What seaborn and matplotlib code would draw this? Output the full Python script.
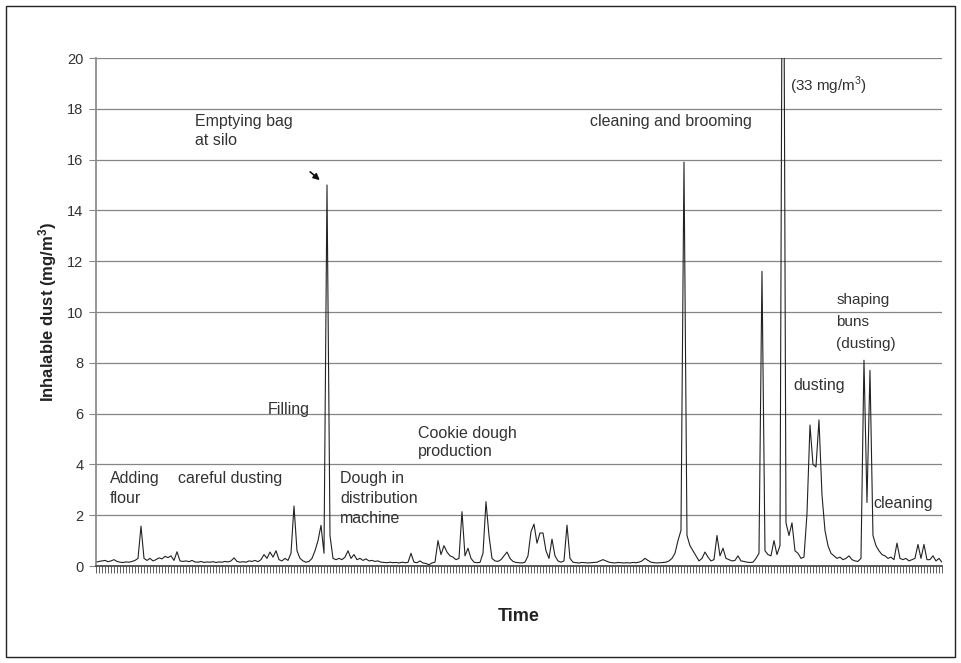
import numpy as np
import pandas as pd
import seaborn as sns
import matplotlib.pyplot as plt
from matplotlib.patches import Rectangle

# Inhalable dust readings (mg/m3), in time order
seg_flour = [0.15, 0.18, 0.2, 0.22, 0.17, 0.2, 0.25, 0.18, 0.15, 0.14,
             0.16, 0.15, 0.18, 0.22, 0.3, 1.57, 0.3, 0.22, 0.3, 0.2,
             0.25, 0.32, 0.28, 0.38, 0.33, 0.4, 0.22, 0.56, 0.2, 0.18]
seg_dusting = [0.2, 0.17, 0.22, 0.16, 0.15, 0.18, 0.14, 0.16, 0.15, 0.17,
               0.14, 0.16, 0.15, 0.18, 0.16, 0.2, 0.32, 0.18, 0.15, 0.17,
               0.15, 0.2, 0.18, 0.22, 0.17, 0.25, 0.45, 0.3, 0.55, 0.35]
seg_filling = [0.6, 0.25, 0.2, 0.3, 0.22, 0.5, 2.36, 0.6, 0.3, 0.2,
               0.15, 0.18, 0.3, 0.6, 1.0, 1.6, 0.5, 15.0, 1.2, 0.3,
               0.25, 0.3, 0.25, 0.35, 0.6, 0.3, 0.45, 0.25, 0.3, 0.22]
seg_dough = [0.28, 0.2, 0.22, 0.18, 0.2, 0.15, 0.14, 0.13, 0.15, 0.13,
             0.14, 0.12, 0.15, 0.13, 0.14, 0.5, 0.15, 0.13, 0.2, 0.12,
             0.1, 0.05, 0.12, 0.15, 1.0, 0.45, 0.8, 0.55, 0.4, 0.35]
seg_cookie = [0.25, 0.3, 2.14, 0.4, 0.7, 0.3, 0.15, 0.13, 0.14, 0.5,
              2.53, 1.2, 0.3, 0.2, 0.18, 0.25, 0.4, 0.55, 0.3, 0.18,
              0.14, 0.13, 0.12, 0.15, 0.4, 1.35, 1.65, 0.9, 1.3, 1.3]
seg_quiet = [0.6, 0.3, 1.06, 0.4, 0.2, 0.15, 0.2, 1.61, 0.3, 0.15,
             0.13, 0.12, 0.14, 0.13, 0.12, 0.13, 0.14, 0.15, 0.2, 0.25,
             0.2, 0.15, 0.13, 0.12, 0.14, 0.13, 0.12, 0.13, 0.12, 0.14]
seg_brooming = [0.13, 0.15, 0.2, 0.3, 0.22, 0.15, 0.13, 0.12, 0.13, 0.14,
                0.15, 0.2, 0.3, 0.5, 1.0, 1.4, 15.9, 1.2, 0.8, 0.6,
                0.4, 0.2, 0.3, 0.55, 0.35, 0.2, 0.25, 1.2, 0.4, 0.7]
seg_peaks = [0.3, 0.25, 0.2, 0.22, 0.4, 0.2, 0.18, 0.15, 0.14, 0.15,
             0.3, 0.5, 11.6, 0.6, 0.45, 0.4, 1.0, 0.45, 0.8, 33.0,
             1.7, 1.2, 1.7, 0.6, 0.5, 0.3, 0.35, 2.05, 5.55, 4.0]
seg_buns = [3.9, 5.75, 2.8, 1.4, 0.8, 0.5, 0.4, 0.3, 0.35, 0.25,
            0.3, 0.4, 0.25, 0.2, 0.18, 0.3, 8.1, 2.5, 7.7, 1.2,
            0.8, 0.6, 0.45, 0.4, 0.3, 0.35, 0.25, 0.9, 0.3, 0.25]
seg_cleaning = [0.3, 0.2, 0.25, 0.3, 0.85, 0.3, 0.85, 0.25, 0.25, 0.4,
                0.2, 0.3, 0.15]

dust = (seg_flour + seg_dusting + seg_filling + seg_dough + seg_cookie
        + seg_quiet + seg_brooming + seg_peaks + seg_buns + seg_cleaning)
df = pd.DataFrame({'t': np.arange(len(dust)), 'dust': dust})

sns.set_theme(style='white')
plt.rcParams['font.family'] = ['Liberation Sans', 'DejaVu Sans']
plt.rcParams['mathtext.fontset'] = 'custom'
plt.rcParams['mathtext.rm'] = 'Liberation Sans'
plt.rcParams['mathtext.bf'] = 'Liberation Sans:bold'

fig = plt.figure(figsize=(9.61, 6.63), dpi=100)
ax = fig.add_axes([0.0999, 0.1463, 0.8803, 0.7662])

sns.lineplot(data=df, x='t', y='dust', ax=ax, color='#222222',
             linewidth=0.8, estimator=None)

ax.set_xlim(0, len(dust) - 1)
ax.set_ylim(0, 20)
ax.set_yticks(np.arange(0, 21, 2))
ax.yaxis.grid(True, color='#858585', linewidth=0.9)
ax.set_axisbelow(True)
ax.set_xticks(np.arange(len(dust)))
ax.set_xticklabels([])
ax.tick_params(axis='x', bottom=True, length=5, width=0.6, color='#444444')
ax.tick_params(axis='y', left=True, length=5, width=0.8, color='#888888',
               labelsize=10.5, labelcolor='#333333', pad=4)
for s in ['top', 'right']:
    ax.spines[s].set_visible(False)
ax.spines['left'].set_color('#888888')
ax.spines['bottom'].set_color('#444444')

ax.set_ylabel(r'Inhalable dust (mg/m$\mathbf{^{3}}$)', fontsize=12,
              fontweight='bold', color='#222222', labelpad=6)
ax.set_xlabel('Time', fontsize=13, fontweight='bold', color='#222222',
              labelpad=22)

notes = [
    (4.7, 3.76, 'Adding\nflour', 11.5, 1.45),
    (27.3, 3.76, 'careful dusting', 11.5, 1.45),
    (57.3, 6.45, 'Filling', 11.5, 1.45),
    (33.0, 17.78, 'Emptying bag\nat silo', 11.5, 1.3),
    (81.3, 3.76, 'Dough in\ndistribution\nmachine', 11.5, 1.45),
    (107.3, 5.53, 'Cookie dough\nproduction', 11.5, 1.3),
    (164.7, 17.78, 'cleaning and brooming', 11.5, 1.33),
    (231.3, 19.35, '(33 mg/m$^{3}$)', 11, 1.33),
    (246.7, 10.75, 'shaping\nbuns\n(dusting)', 11, 1.72),
    (232.3, 7.42, 'dusting', 11.5, 1.33),
    (259.0, 2.74, 'cleaning', 11.5, 1.33),
]
for x, y, s, fs, ls in notes:
    ax.text(x, y, s, fontsize=fs, color='#333333', va='top', ha='left',
            linespacing=ls)

ax.annotate('', xy=(75.3, 15.12), xytext=(70.7, 15.59),
            arrowprops=dict(arrowstyle='-|>', color='#111111', lw=1.2,
                            mutation_scale=9))

fig.patches.append(Rectangle((6 / 961, 6 / 663), 949 / 961, 651 / 663,
                             transform=fig.transFigure, fill=False,
                             edgecolor='#222222', linewidth=1))

fig.savefig('out.png', dpi=100)
